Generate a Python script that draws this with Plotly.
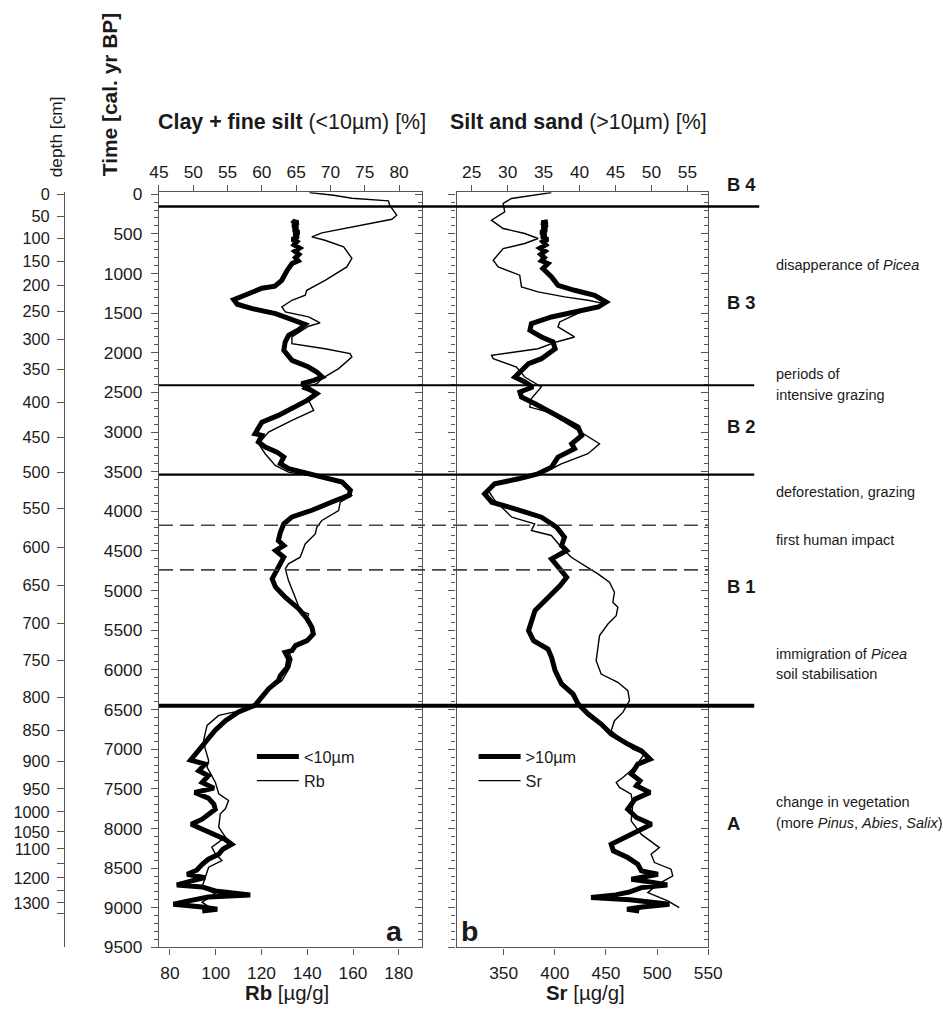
import plotly.graph_objects as go

# ---------------- data ----------------
clay_age = [328, 345, 360, 390, 420, 450, 480, 510, 540, 570, 600, 640, 680, 720, 760, 800, 840, 875,
            960, 1086, 1161, 1187, 1275, 1330, 1388, 1443, 1506, 1590, 1641, 1708, 1780, 1864, 1970,
            2096, 2180, 2243, 2306, 2348, 2390, 2453, 2516, 2601, 2650, 2706, 2790, 2875, 2938, 3022,
            3043, 3127, 3190, 3253, 3315, 3400, 3463, 3526, 3577, 3630, 3735, 3798, 3882, 3987, 4071,
            4158, 4264, 4369, 4432, 4495, 4579, 4663, 4768, 4852, 4957, 5084, 5231, 5357, 5463, 5547,
            5631, 5694, 5757, 5779, 5863, 5968, 6073, 6136, 6237, 6342, 6447, 6530, 6640, 6760, 6890,
            6978, 7138, 7189, 7273, 7336, 7420, 7492, 7547, 7618, 7694, 7757, 7820, 7883, 7946, 8009,
            8072, 8136, 8199, 8262, 8325, 8388, 8451, 8527, 8577, 8620, 8662, 8712, 8737, 8788, 8838,
            8864, 8914, 8956, 8990, 9019, 9040]
clay_pct = [64.4, 64.6, 65.3, 64.5, 65.2, 64.6, 65.4, 64.7, 65.3, 64.4, 65.1, 64.7, 65.5, 64.8, 65.4, 64.9, 65.3, 64.4,
            63.7, 62.9, 61.9, 60.0, 57.5, 55.9, 56.4, 58.6, 62.0, 64.9, 66.3, 65.4, 63.9, 63.4, 63.2,
            64.4, 66.8, 68.0, 68.8, 67.6, 65.8, 66.8, 68.0, 66.6, 65.6, 64.4, 62.4, 60.0, 59.5, 59.0,
            60.0, 59.5, 60.5, 62.2, 63.2, 62.7, 63.9, 66.8, 69.7, 71.7, 72.9, 72.7, 70.2, 67.3, 64.4,
            63.2, 62.7, 62.4, 63.2, 62.0, 63.2, 62.7, 62.0, 61.5, 62.0, 63.4, 65.4, 66.6, 67.3, 67.5,
            66.6, 64.9, 64.4, 63.4, 63.9, 63.7, 62.7, 62.4, 61.0, 60.0, 59.0, 56.6, 54.7, 53.2, 52.0,
            51.3, 49.6, 51.7, 50.8, 52.2, 51.3, 53.0, 50.2, 52.2, 53.0, 53.2, 52.2, 51.3, 49.7, 51.3,
            53.2, 54.6, 55.6, 54.3, 53.7, 52.2, 51.3, 50.5, 49.1, 51.7, 49.8, 47.6, 51.3, 53.2, 58.3,
            52.2, 49.3, 47.1, 51.3, 53.5, 51.3]

rb_age = [-20, 13, 51, 84, 139, 265, 316, 413, 488, 539, 581, 665, 749, 808, 917, 1022, 1086, 1212, 1275,
          1338, 1422, 1485, 1548, 1624, 1666, 1801, 1885, 1949, 2011, 2054, 2200, 2327, 2390, 2453, 2516,
          2601, 2727, 2854, 3001, 3148, 3274, 3422, 3506, 3569, 3611, 3737, 3800, 3885, 3990, 4116, 4200,
          4285, 4411, 4579, 4663, 4726, 4874, 5084, 5252, 5294, 5379, 5463, 5547, 5631, 5694, 5779, 5863,
          5968, 6073, 6136, 6237, 6342, 6447, 6510, 6574, 6700, 6889, 6994, 7142, 7226, 7416, 7563, 7647,
          7752, 7815, 7983, 8110, 8236, 8320, 8405, 8489, 8615, 8741, 8825, 8930, 9014]
rb_val = [141.0, 151.5, 159.5, 175.5, 176.0, 179.1, 177.0, 159.5, 146.4, 142.0, 147.7, 155.9, 158.0, 159.5, 157.3,
          151.5, 147.8, 139.8, 139.1, 133.3, 128.9, 130.4, 140.6, 145.6, 140.6, 133.3, 133.3, 147.8, 158.7, 159.5,
          153.7, 146.4, 144.2, 137.6, 143.5, 140.6, 142.8, 133.3, 123.1, 118.7, 121.6, 126.0, 131.8, 145.0, 155.1,
          158.0, 159.5, 154.4, 153.7, 146.4, 144.2, 143.5, 139.1, 136.9, 131.8, 130.4, 131.8, 134.7, 136.9, 140.6,
          139.5, 142.0, 142.8, 139.8, 134.7, 132.0, 133.3, 132.4, 130.2, 128.9, 123.7, 120.2, 117.3, 111.4, 101.3,
          96.2, 94.7, 95.4, 96.9, 96.2, 99.8, 101.3, 105.6, 104.2, 102.0, 101.3, 104.2, 98.3, 99.8, 102.7, 96.9,
          95.4, 94.0, 99.8, 94.0, 98.3]

silt_age = [349, 360, 390, 420, 450, 480, 510, 540, 570, 600, 640, 680, 720, 760, 800, 840, 875, 938, 1044,
            1149, 1212, 1275, 1360, 1423, 1486, 1549, 1633, 1717, 1801, 1864, 1949, 2075, 2138, 2222, 2306,
            2369, 2432, 2495, 2558, 2643, 2727, 2833, 2938, 3043, 3148, 3211, 3316, 3443, 3527, 3590, 3653,
            3779, 3885, 3969, 4074, 4200, 4327, 4432, 4495, 4600, 4705, 4832, 4937, 5084, 5252, 5505, 5631,
            5737, 5842, 6010, 6178, 6305, 6431, 6557, 6683, 6810, 6936, 7020, 7125, 7188, 7314, 7399, 7462,
            7547, 7630, 7757, 7862, 7946, 8030, 8114, 8199, 8283, 8367, 8451, 8535, 8577, 8640, 8683, 8712,
            8746, 8800, 8838, 8872, 8900, 8914, 8956, 8990, 9019, 9040]
silt_pct = [35.6, 34.7, 35.5, 34.8, 35.4, 34.6, 35.3, 34.7, 35.6, 34.9, 35.3, 34.5, 35.2, 34.6, 35.1, 34.7, 35.6,
            34.9, 36.1, 37.0, 39.3, 42.1, 43.7, 42.6, 39.3, 36.1, 33.3, 33.1, 34.7, 36.3, 36.6, 34.7, 32.9, 31.9,
            31.0, 32.4, 33.5, 31.7, 31.9, 33.8, 35.6, 37.9, 39.8, 40.3, 38.9, 39.3, 37.0, 36.1, 34.2, 31.5, 28.2,
            26.8, 27.8, 31.0, 34.7, 36.8, 37.9, 37.5, 38.2, 36.1, 37.0, 38.2, 37.3, 35.6, 33.8, 32.9, 33.6, 35.6,
            36.1, 36.6, 37.5, 39.1, 39.8, 41.2, 43.0, 44.4, 46.7, 48.6, 49.8, 48.1, 47.2, 48.4, 47.9, 49.8, 47.7,
            46.7, 47.9, 50.0, 48.1, 46.5, 44.4, 44.7, 46.7, 48.1, 48.6, 50.9, 47.2, 50.4, 52.2, 48.6, 47.0, 45.0,
            41.6, 47.0, 48.6, 52.5, 48.7, 46.6, 48.3]

sr_age = [-20, 54, 117, 223, 328, 433, 496, 559, 622, 686, 833, 917, 1022, 1170, 1233, 1296, 1338, 1380, 1464,
          1612, 1675, 1801, 1864, 1949, 2033, 2075, 2180, 2306, 2432, 2579, 2685, 2748, 2875, 3001, 3148, 3274,
          3401, 3485, 3590, 3632, 3737, 3864, 3948, 4074, 4158, 4242, 4305, 4453, 4579, 4684, 4789, 4895, 5021,
          5147, 5210, 5316, 5421, 5568, 5884, 6052, 6157, 6263, 6389, 6536, 6641, 6768, 6894, 6999, 7062, 7231,
          7357, 7420, 7483, 7567, 7694, 7904, 8072, 8241, 8325, 8430, 8514, 8598, 8704, 8809, 8914, 8998]
sr_val = [396.6, 357.6, 349.5, 351.0, 338.0, 349.5, 370.6, 383.6, 370.6, 349.5, 339.8, 344.6, 365.7, 367.4, 383.6,
          409.6, 432.4, 448.5, 429.0, 404.7, 403.1, 419.3, 401.5, 383.6, 338.1, 339.8, 362.5, 370.6, 386.8, 377.1,
          375.4, 393.4, 409.6, 425.8, 443.7, 432.4, 406.3, 393.4, 370.6, 341.4, 334.9, 341.4, 347.9, 358.0, 380.3,
          377.1, 396.6, 406.3, 416.1, 429.0, 442.1, 453.4, 458.3, 456.7, 461.6, 460.0, 451.9, 443.7, 440.4, 445.3,
          461.6, 471.4, 473.0, 466.5, 458.3, 455.1, 466.5, 476.2, 487.6, 477.8, 466.5, 460.0, 463.2, 474.6, 476.2,
          474.6, 484.3, 502.2, 494.1, 497.4, 513.6, 515.3, 500.6, 490.9, 510.4, 521.6]

depth_labels = ["0", "50", "100", "150", "200", "250", "300", "350", "400", "450", "500", "550", "600", "650",
                "700", "750", "800", "850", "900", "950", "1000", "1050", "1100", "", "1200", "", "1300", ""]
depth_ages = [0, 278, 556, 846, 1149, 1477, 1831, 2210, 2626, 3068, 3510, 3965, 4457, 4937,
              5417, 5884, 6351, 6768, 7159, 7500, 7790, 8043, 8258, 8447, 8624, 8788, 8939, 9078]

zone_bounds = [155, 2410, 3538, 6452]
event_bounds = [4175, 4738]
zone_names = ["B 4", "B 3", "B 2", "B 1", "A"]

# ---------------- layout helpers ----------------
# measured: the page is shown with an 8 px body margin and slightly reduced
SX, SY, OFF = 0.976, 0.982, 8
W, H = 950, 1014
def px(x):
    return (x / SX - OFF) / W
def py(y):
    return 1 - (y / SY - OFF) / H
K = 1.02  # font / size compensation for the reduction

FONT = "Liberation Sans, Arial, Helvetica, sans-serif"
TXT = "#1a1a1a"
AX = "#555555"
AGE_RANGE = [9500, -25]
XA = [px(157), px(420)]
XB = [px(455), px(707)]
YD = [py(947), py(192)]

fig = go.Figure()
fig.add_trace(go.Scatter(x=clay_pct, y=clay_age, xaxis="x2", yaxis="y", mode="lines",
                         line=dict(color="black", width=5), name="&lt;10µm", legend="legend"))
fig.add_trace(go.Scatter(x=rb_val, y=rb_age, xaxis="x", yaxis="y", mode="lines",
                         line=dict(color="black", width=1.4), name="Rb", legend="legend"))
fig.add_trace(go.Scatter(x=silt_pct, y=silt_age, xaxis="x4", yaxis="y2", mode="lines",
                         line=dict(color="black", width=5), name="&gt;10µm", legend="legend2"))
fig.add_trace(go.Scatter(x=sr_val, y=sr_age, xaxis="x3", yaxis="y2", mode="lines",
                         line=dict(color="black", width=1.4), name="Sr", legend="legend2"))
for ya, xa in [("y3", "x"), ("y4", "x3"), ("y5", "x")]:
    fig.add_trace(go.Scatter(x=[None], y=[None], xaxis=xa, yaxis=ya, mode="lines",
                             showlegend=False, hoverinfo="skip"))

tickfont = dict(family=FONT, size=17 * K, color=TXT)
common_x = dict(showline=True, linecolor=AX, linewidth=1.3, ticks="outside", ticklen=6,
                tickcolor=AX, tickwidth=1.2, showgrid=False, zeroline=False, tickfont=tickfont,
                fixedrange=True)
minor = dict(dtick=100, ticks="outside", ticklen=4, tickcolor=AX, tickwidth=1)
minor_in = dict(dtick=100, ticks="inside", ticklen=4, tickcolor=AX, tickwidth=1)
legfont = dict(family=FONT, size=16.3, color=TXT)

fig.update_layout(
    width=W, height=H, margin=dict(l=0, r=0, t=0, b=0),
    paper_bgcolor="white", plot_bgcolor="white",
    font=dict(family=FONT, color=TXT),
    xaxis=dict(domain=XA, anchor="y", side="bottom", range=[75.2, 190], ticklabelstandoff=4,
               tickvals=[80, 100, 120, 140, 160, 180], **common_x),
    xaxis2=dict(overlaying="x", anchor="y", side="top", range=[45, 83.3],
                tickvals=[45, 50, 55, 60, 65, 70, 75, 80], **common_x),
    xaxis3=dict(domain=XB, anchor="y2", side="bottom", range=[304, 550], ticklabelstandoff=4,
                tickvals=[350, 400, 450, 500, 550], **common_x),
    xaxis4=dict(overlaying="x3", anchor="y2", side="top", range=[22.9, 57.9],
                tickvals=[25, 30, 35, 40, 45, 50, 55], **common_x),
    yaxis=dict(domain=YD, anchor="x", range=AGE_RANGE, tickmode="linear", tick0=0, dtick=500,
               showline=True, linecolor=AX, linewidth=1.3, ticks="outside", ticklen=7,
               tickcolor=AX, tickwidth=1.2, minor=minor, showgrid=False, zeroline=False,
               tickfont=tickfont, ticklabelstandoff=5, fixedrange=True),
    yaxis2=dict(domain=YD, anchor="x3", range=AGE_RANGE, tickmode="linear", tick0=0, dtick=500,
                showline=True, linecolor=AX, linewidth=1.3, ticks="outside", ticklen=7,
                tickcolor=AX, tickwidth=1.2, minor=minor, showticklabels=False, showgrid=False,
                zeroline=False, fixedrange=True),
    yaxis3=dict(overlaying="y", anchor="x", side="right", range=AGE_RANGE, tickmode="linear",
                tick0=0, dtick=500, showline=True, linecolor=AX, linewidth=1.3, ticks="inside",
                ticklen=7, tickcolor=AX, tickwidth=1.2, minor=minor_in, showticklabels=False,
                showgrid=False, zeroline=False, fixedrange=True),
    yaxis4=dict(overlaying="y2", anchor="x3", side="right", range=AGE_RANGE, tickmode="linear",
                tick0=0, dtick=500, showline=True, linecolor=AX, linewidth=1.3, ticks="inside",
                ticklen=7, tickcolor=AX, tickwidth=1.2, minor=minor_in, showticklabels=False,
                showgrid=False, zeroline=False, fixedrange=True),
    yaxis5=dict(overlaying="y", anchor="free", position=px(62), side="left", range=AGE_RANGE,
                tickmode="array", tickvals=depth_ages, ticktext=depth_labels,
                showline=True, linecolor=AX, linewidth=1.3, ticks="outside", ticklen=7,
                tickcolor=AX, tickwidth=1.2, showgrid=False, zeroline=False,
                tickfont=dict(family=FONT, size=16 * K, color=TXT), ticklabelstandoff=4,
                fixedrange=True),
    legend=dict(x=px(250), y=py(739), xanchor="left", yanchor="top", bgcolor="rgba(0,0,0,0)",
                font=legfont, itemwidth=42, tracegroupgap=0),
    legend2=dict(x=px(472), y=py(739), xanchor="left", yanchor="top", bgcolor="rgba(0,0,0,0)",
                 font=legfont, itemwidth=42, tracegroupgap=0),
    showlegend=True,
)

shapes = []
line_ends = [758, 753, 753, 753]
line_widths = [2.5, 2.2, 2.2, 4]
for b, xe, lw in zip(zone_bounds, line_ends, line_widths):
    shapes.append(dict(type="line", xref="paper", yref="y", x0=px(157), x1=px(xe), y0=b, y1=b,
                       line=dict(color="black", width=lw)))
for b in event_bounds:
    shapes.append(dict(type="line", xref="paper", yref="y", x0=px(157), x1=px(707), y0=b, y1=b,
                       line=dict(color="#444", width=1.6, dash="14px,7px")))
fig.update_layout(shapes=shapes)

ann = []
def text(x, y, s, size=14.5, bold=False, anchor="left", angle=0, **kw):
    ann.append(dict(x=x, y=y, xref=kw.get("xref", "paper"), yref=kw.get("yref", "paper"),
                    text=(f"<b>{s}</b>" if bold else s), showarrow=False, xanchor=anchor,
                    yanchor="middle", textangle=angle,
                    font=dict(family=FONT, size=size * K, color=TXT)))

text(px(290), py(122), "<b>Clay + fine silt</b> (&lt;10µm) [%]", size=21, anchor="center")
text(px(577), py(122), "<b>Silt and sand</b> (&gt;10µm) [%]", size=21, anchor="center")
text(px(54), py(137), "depth [cm]", size=17, anchor="center", angle=-90)
text(px(107), py(95), "Time [cal. yr BP]", size=20.5, bold=True, anchor="center", angle=-90)
text(px(285), py(993), "<b>Rb</b> [µg/g]", size=20, anchor="center")
text(px(584), py(993), "<b>Sr</b> [µg/g]", size=20, anchor="center")
text(178.3, 9290, "a", size=28, bold=True, anchor="center", xref="x", yref="y")
text(316.7, 9290, "b", size=28, bold=True, anchor="center", xref="x3", yref="y2")

zone_label_y = [184, 302, 426, 586, 823]
for name, yy in zip(zone_names, zone_label_y):
    text(px(724), py(yy), name, size=18, bold=True)

events = [
    (265, "disapperance of <i>Picea</i>"),
    (374, "periods of"),
    (395, "intensive grazing"),
    (492, "deforestation, grazing"),
    (540, "first human impact"),
    (654, "immigration of <i>Picea</i>"),
    (674, "soil stabilisation"),
    (802, "change in vegetation"),
    (823, "(more <i>Pinus</i>, <i>Abies</i>, <i>Salix</i>)"),
]
for yy, s in events:
    text(px(773), py(yy), s, size=14.2)

fig.update_layout(annotations=ann)
fig.write_html("out.html")
